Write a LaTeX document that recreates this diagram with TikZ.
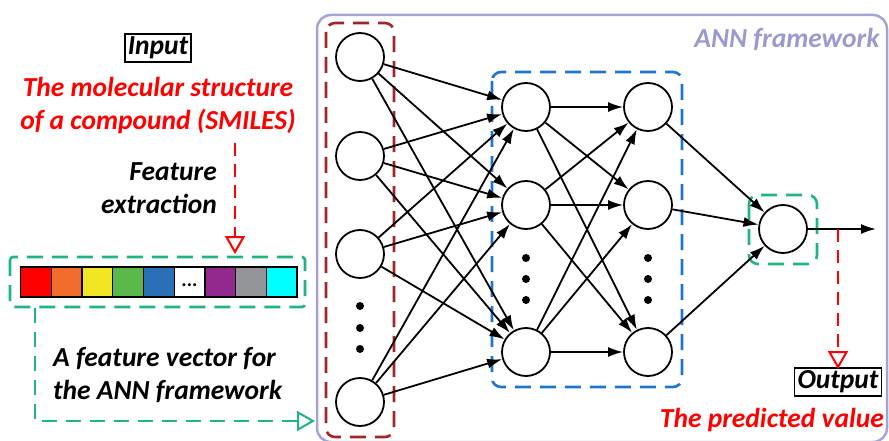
\documentclass[tikz,border=0pt]{standalone}
\usepackage{fontspec}
\setmainfont{Carlito}
\usetikzlibrary{arrows.meta}
\definecolor{lav}{HTML}{A3A3D6}
\definecolor{lavtext}{HTML}{9A9ACF}
\definecolor{dred}{HTML}{A0262A}
\definecolor{hblue}{HTML}{1F74CC}
\definecolor{tgreen}{HTML}{1FB386}
\definecolor{rred}{HTML}{FF0000}
\definecolor{corange}{HTML}{F26D2B}
\definecolor{cyellow}{HTML}{F2E624}
\definecolor{cgreen}{HTML}{5BB94B}
\definecolor{cblue}{HTML}{2A70B6}
\definecolor{cpurple}{HTML}{93288F}
\definecolor{cgray}{HTML}{939598}
\definecolor{ccyan}{HTML}{00FFFF}
\begin{document}
\begin{tikzpicture}[x=1pt,y=-1pt,
  neuron/.style={circle,draw,line width=1.8pt,minimum size=48pt,inner sep=0pt,fill=white},
  edge/.style={line width=1.8pt,-{Latex[length=15pt,width=10pt]}},
  lbl/.style={font=\fontsize{27.5}{33}\selectfont\bfseries\itshape,inner sep=0pt},
  boxlbl/.style={lbl,draw,line width=1.4pt,inner sep=3pt},
  cell/.style={draw,line width=1.3pt,minimum width=30.7pt,minimum height=30pt,inner sep=0pt,anchor=west},
  dashbox/.style={line width=2.6pt,dash pattern=on 16pt off 9pt,rounded corners=9pt},
  openarrow/.style={-{Triangle[open,length=18pt,width=20pt,line width=2pt]}}
]
\useasboundingbox (0,0) rectangle (889,441);

% ANN framework box
\draw[lav,line width=2.5pt,rounded corners=14pt] (317,15) rectangle (887,442);
\node[lbl,text=lavtext] (ann) at (787,39) {ANN framework};

% layer boxes
\draw[dashbox,dred] (326,23) rectangle (394,437);
\draw[dashbox,hblue] (492,72) rectangle (682,387);
\draw[dashbox,tgreen] (749,195) rectangle (817,264);

% input neurons
\node[neuron] (i1) at (360,57) {};
\node[neuron] (i2) at (360,156) {};
\node[neuron] (i3) at (360,254) {};
\node[neuron] (i4) at (360,402) {};
% hidden 1
\node[neuron] (a1) at (526,107) {};
\node[neuron] (a2) at (526,205) {};
\node[neuron] (a3) at (526,352) {};
% hidden 2
\node[neuron] (b1) at (648,107) {};
\node[neuron] (b2) at (648,205) {};
\node[neuron] (b3) at (648,352) {};
% output
\node[neuron] (o) at (783,229) {};

% dots
\foreach \y in {306,328,349} \fill (360,\y) circle (4pt);
\foreach \y in {258,279,300} {\fill (526,\y) circle (4pt); \fill (648,\y) circle (4pt);}

% edges
\foreach \i in {1,...,4} \foreach \j in {1,2,3} \draw[edge] (i\i) -- (a\j);
\foreach \i in {1,2,3} \foreach \j in {1,2,3} \draw[edge] (a\i) -- (b\j);
\foreach \i in {1,2,3} \draw[edge] (b\i) -- (o);
\coordinate (oend) at (876,229);
\draw[edge] (o) -- (oend);

% output annotation
\coordinate (ostart) at (838,229);
\node[boxlbl] (out) at (838,382) {Output};
\draw[rred,line width=2pt,dash pattern=on 13pt off 8pt,openarrow] (ostart) -- ([yshift=-2pt]out.north);
\node[lbl,text=rred,anchor=east] (pred) at (884,420) {The predicted value};

% input annotation
\node[boxlbl] (in) at (158,48) {Input};
\node[lbl,text=rred,align=center] (mol) at (158,106) {The molecular structure\\of a compound (SMILES)};
\node[lbl,align=right,anchor=east] (fe) at (217,188) {Feature\\extraction};

% feature vector
\foreach \c [count=\k] in {rred,corange,cyellow,cgreen,cblue,white,cpurple,cgray,ccyan}
  \node[cell,fill=\c] (c\k) at ({20+(\k-1)*30.7},282) {};
\node[inner sep=0pt,font=\fontsize{20}{20}\selectfont\bfseries] at ([yshift=-3pt]c6) {...};
\draw[dashbox,tgreen,rounded corners=3pt] (10,257) rectangle (305,307);
\coordinate (fvtop) at (235,143);
\coordinate (fvbox) at (235,254);
\draw[rred,line width=2pt,dash pattern=on 13pt off 8pt,openarrow] (fvtop) -- (fvbox);

\coordinate (gstart) at (35,308);
\coordinate (gend) at (315,421);
\draw[tgreen,line width=2.6pt,dash pattern=on 15pt off 9pt,openarrow] (gstart) |- (gend);
\node[lbl,align=left,anchor=west] (fvl) at (53,375) {A feature vector for\\the ANN framework};
\end{tikzpicture}
\end{document}
